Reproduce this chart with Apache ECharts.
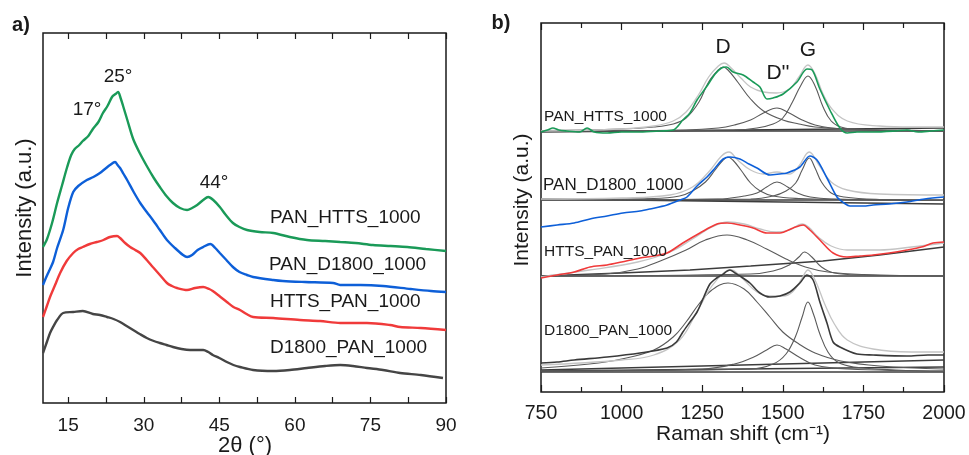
<!DOCTYPE html>
<html>
<head>
<meta charset="utf-8">
<script src="https://cdn.jsdelivr.net/npm/echarts@6/dist/echarts.min.js"></script>
<style>
  html, body { margin: 0; padding: 0; background: #fff; }
  #chart { width: 969px; height: 455px; }
</style>
</head>
<body>
<div id="chart"></div>
<script>
// ---------- (a) XRD patterns: [2theta (deg), intensity (a.u., offset)] ----------
const xrdPanHtts = [[10,156],[10.8,164],[11.8,180],[12.8,200],[13.8,218],[14.8,236],[15.6,248],[16.3,254],[17.2,258],[17.9,262],[19,267],[19.9,274],[21,281],[21.9,290],[22.8,297],[23.7,306],[24.4,309],[24.9,311],[25.4,305],[25.9,297],[26.8,282],[27.9,264],[29.2,250],[30.6,237],[32,225],[33.2,216],[34.5,207],[35.8,200],[37.2,195],[38.6,193],[39.6,195],[40.6,198],[41.8,203],[42.8,206],[43.8,203],[45.1,196],[46.3,188],[47.7,180],[49,176],[50.5,173],[53,171],[55.7,170],[59,166],[62.4,163],[66,162],[69,161],[72,160],[75.5,158],[79,157],[82.3,156],[86,154],[90,152]];
const xrdPanD1800 = [[10,118],[10.4,123],[11.2,132],[12,141],[12.8,155],[14,173],[15,195],[16,211],[17,217],[18.7,223],[20,226],[21.3,230],[22.3,234],[23.3,238],[24.3,241],[24.8,238],[25.3,235],[26,229],[26.7,223],[28,211],[29.3,200],[30.6,191],[31.8,183],[33.2,173],[34.6,163],[36.2,155],[37.8,148],[38.6,146],[39.6,148],[40.7,153],[41.8,156],[43.2,159],[44.2,155],[45.1,150],[46.4,143],[47.7,136],[49,131],[50.5,128],[51.7,126],[55.7,123],[57.6,122],[62,121],[67.6,120],[69,118],[73,118],[77.5,117],[83,114],[87,112],[90,111]];
const xrdHttsPan = [[10,86],[10.7,96],[11.4,106],[12.4,118],[13.4,130],[14.7,142],[16,150],[17,154],[17.9,156],[19.3,159],[20.7,161],[22,163],[23.3,166],[24.7,167],[25.3,165],[26.3,160],[27.3,156],[28.3,153],[29.3,150],[30.6,143],[31.8,136],[33.2,128],[34.6,120],[35.6,117],[36.6,115],[38.6,113],[40.2,115],[41.8,116],[43,114],[43.7,112],[45,107],[46.5,101],[47.8,96],[49.1,93],[50.4,89],[51.7,86],[55.7,85],[61,83],[65,82],[69,80],[74.3,80],[78.9,78],[80.9,76],[85,75],[90,73]];
const xrdD1800Pan = [[10,50],[10.7,60],[11.4,70],[12.1,77],[12.8,83],[14,90],[16,91],[17.9,92],[19.9,89],[21.3,88],[22.7,86],[24,84],[25.3,81],[26.6,77],[27.9,73],[29.2,69],[30.6,65],[32,62],[33.2,60],[34.5,58],[35.8,56],[37.5,54],[39.2,53],[40.5,53],[41.8,53],[42.8,51],[43.7,48],[45,45],[46.5,41],[47.8,38],[49.1,36],[51.7,33],[55.7,32],[59,33],[62.4,35],[66,37],[69,38],[71.5,37],[74.3,35],[77.5,33],[80.9,30],[85,28],[89.4,25]];
const xrdTicks = [15,22.5,30,37.5,45,52.5,60,67.5,75,82.5,90];
const xrdLabels = [15,30,45,60,75,90];

// ---------- (b) Raman spectra: [shift (cm-1), intensity (a.u., offset)] ----------
// PAN_HTTS_1000
const ramanPanHtts = [[750,260],[770,262],[787,264],[805,262],[830,261],[870,260],[893,264],[915,260],[955,259],[1000,260],[1057,260],[1120,261],[1160,262],[1190,272],[1212,279],[1234,292],[1265,306],[1290,318],[1310,324],[1325,325],[1346,320],[1377,317],[1408,310],[1429,305],[1451,293],[1470,294],[1501,298],[1544,310],[1575,323],[1591,322],[1615,303],[1646,282],[1677,264],[1700,259],[1730,260],[1780,260],[1850,261],[1885,262],[1920,260],[1960,261],[2000,262]];
const fitPanHtts = [[750,261],[1000,263],[1100,266],[1160,271],[1200,280],[1240,298],[1270,315],[1300,326],[1318,329],[1340,324],[1370,314],[1400,305],[1440,300],[1480,299],[1520,303],[1550,315],[1578,327],[1600,318],[1625,298],[1650,284],[1700,271],[1800,266],[1900,265],[2000,265]];
const dPanHtts = [[750,261.5],[1000,263],[1100,265],[1160,268],[1200,274],[1240,290],[1270,310],[1300,322],[1315,325],[1330,322],[1360,310],[1400,293],[1440,281],[1500,272],[1550,268],[1600,265],[1700,263],[1850,262],[2000,261]];
const d2PanHtts = [[750,261],[1200,262],[1300,264],[1350,267],[1400,272],[1440,279],[1482,284],[1520,279],[1560,272],[1600,267],[1650,264],[1750,262],[2000,261]];
const gPanHtts = [[750,261],[1350,262],[1420,264],[1470,268],[1500,274],[1530,290],[1555,306],[1578,316],[1600,306],[1625,285],[1650,271],[1680,265],[1750,262],[2000,261]];
const basePanHtts = [[750,261],[2000,261]];
const bgPanHtts = [[750,260],[2000,264]];
// PAN_D1800_1000
const ramanPanD1800 = [[750,165],[800,167],[853,169],[902,173],[955,176],[1004,179],[1057,181],[1088,183],[1141,187],[1181,192],[1203,195],[1234,206],[1265,215],[1290,224],[1315,233],[1336,235],[1367,233],[1395,228],[1420,224],[1460,217],[1490,218],[1513,219],[1553,225],[1584,236],[1606,232],[1637,214],[1668,195],[1690,189],[1708,186],[1750,186],[1780,187],[1830,188],[1885,190],[1940,193],[2000,195]];
const fitPanD1800 = [[750,193],[1000,194],[1150,197],[1220,205],[1270,220],[1310,236],[1333,240],[1360,232],[1400,222],[1440,218],[1482,220],[1520,218],[1550,226],[1582,240],[1610,228],[1650,210],[1700,202],[1800,198],[2000,197]];
const dPanD1800 = [[750,192.5],[1100,193.5],[1180,196],[1220,201],[1260,210],[1290,222],[1315,232],[1330,235],[1345,232],[1370,222],[1400,209],[1430,201],[1470,196],[1550,193.5],[1700,192.5],[2000,191.5]];
const d2PanD1800 = [[750,192],[1300,193],[1380,196],[1420,199],[1450,205],[1482,210],[1515,205],[1545,199],[1585,195],[1650,193],[2000,191.5]];
const gPanD1800 = [[750,192],[1400,193],[1470,196],[1510,201],[1540,209],[1560,222],[1582,234],[1600,224],[1620,210],[1650,199],[1690,195],[1800,192.5],[2000,191.5]];
const basePanD1800 = [[750,192],[2000,192]];
const bgPanD1800 = [[750,193],[2000,188]];
// HTTS_PAN_1000
const ramanHttsPan = [[750,114],[800,117],[853,120],[902,125],[955,127],[1000,130],[1057,134],[1100,136],[1141,139],[1190,149],[1243,159],[1296,168],[1327,169],[1367,167],[1408,164],[1451,159],[1491,159],[1532,164],[1563,167],[1584,162],[1615,152],[1656,139],[1699,135],[1740,136],[1780,137],[1830,139],[1885,142],[1930,145],[1966,149],[2000,150]];
const fitHttsPan = [[750,115],[900,122],[1050,130],[1150,140],[1220,153],[1280,165],[1330,170],[1380,168],[1430,163],[1480,160],[1520,162],[1560,168],[1580,165],[1610,155],[1650,146],[1700,142],[1800,142],[1900,145],[2000,149]];
const dHttsPan = [[750,116],[950,118],[1050,123],[1120,131],[1200,142],[1260,152],[1327,157],[1390,152],[1450,143],[1510,133],[1570,125],[1640,120],[1750,117.5],[2000,116]];
const gHttsPan = [[750,116],[1400,118],[1470,121],[1520,127],[1550,135],[1567,140],[1590,135],[1620,125],[1660,119],[1750,117],[2000,116]];
const baseHttsPan = [[750,116],[2000,116]];
const bgHttsPan = [[750,116],[1000,119],[1212,122],[1400,126],[1624,131],[1800,137],[2000,145]];
// D1800_PAN_1000
const ramanD1800Pan = [[750,29],[800,30],[853,32],[955,35],[1057,39],[1141,44],[1170,50],[1190,60],[1212,70],[1234,80],[1255,95],[1274,108],[1295,114],[1311,117],[1336,122],[1352,119],[1367,116],[1398,109],[1429,99],[1460,95],[1491,96],[1522,100],[1553,109],[1575,117],[1594,112],[1615,90],[1637,69],[1656,50],[1677,45],[1730,38],[1780,37],[1885,36],[1950,37],[2000,37]];
const fitD1800Pan = [[750,27],[1000,32],[1100,37],[1180,52],[1230,78],[1280,106],[1320,120],[1340,122],[1370,115],[1420,100],[1460,96],[1500,96],[1530,100],[1560,114],[1578,122],[1600,112],[1630,88],[1660,68],[1700,52],[1780,43],[1900,40],[2000,40]];
const dD1800Pan = [[750,24],[900,28],[1000,33],[1100,42],[1160,55],[1200,70],[1240,88],[1280,102],[1330,109],[1380,103],[1420,90],[1460,75],[1500,60],[1550,48],[1600,39],[1680,31],[1800,26],[2000,23]];
const d2D1800Pan = [[750,21],[1250,23],[1350,28],[1410,35],[1450,42],[1482,47],[1510,43],[1550,35],[1600,27],[1700,23],[2000,21]];
const gD1800Pan = [[750,21],[1400,23],[1470,28],[1510,38],[1540,56],[1560,75],[1578,90],[1595,78],[1615,58],[1640,40],[1670,30],[1720,25],[1850,22],[2000,21]];
const baseD1800Pan = [[750,20],[2000,20]];
const bg1D1800Pan = [[750,22],[2000,32]];
const bg2D1800Pan = [[750,21],[2000,25]];

const FONT = '"Liberation Sans", Arial, Helvetica, sans-serif';
const INK = '#1a1a1a';
const COL = { green: '#1a9a58', blue: '#0d5fd8', red: '#f03a3a', dark: '#454545' };

const chart = echarts.init(document.getElementById('chart'), null, { renderer: 'canvas' });

function line(data, xi, color, width, smooth, z) {
  return {
    type: 'line', data: data, xAxisIndex: xi, yAxisIndex: xi === 0 ? 0 : 1,
    showSymbol: false, symbol: 'none', smooth: smooth, silent: true, z: z || 2,
    lineStyle: { color: color, width: width }
  };
}

const COMP = '#5a5a5a', FIT = '#c4c4c4', BASE = '#3c3c3c';
function ramanSet(raw, rawColor, fit, comps, bases) {
  const s = [];
  bases.forEach(b => s.push(line(b, 2, BASE, 1.3, false, 2)));
  comps.forEach(c => s.push(line(c, 2, COMP, 1.1, 0.4, 3)));
  s.push(line(fit, 2, FIT, 1.3, 0.4, 4));
  s.push(line(raw, 2, rawColor, 1.6, 0.3, 5));
  return s;
}

const series = [
  line(xrdD1800Pan, 0, COL.dark, 2.4, 0.3),
  line(xrdHttsPan, 0, COL.red, 2.4, 0.3),
  line(xrdPanD1800, 0, COL.blue, 2.4, 0.3),
  line(xrdPanHtts, 0, COL.green, 2.4, 0.3),
  ...ramanSet(ramanPanHtts, COL.green, fitPanHtts, [dPanHtts, d2PanHtts, gPanHtts], [basePanHtts, bgPanHtts]),
  ...ramanSet(ramanPanD1800, COL.blue, fitPanD1800, [dPanD1800, d2PanD1800, gPanD1800], [basePanD1800, bgPanD1800]),
  ...ramanSet(ramanHttsPan, COL.red, fitHttsPan, [dHttsPan, gHttsPan], [baseHttsPan, bgHttsPan]),
  ...ramanSet(ramanD1800Pan, '#3a3a3a', fitD1800Pan, [dD1800Pan, d2D1800Pan, gD1800Pan], [baseD1800Pan, bg1D1800Pan, bg2D1800Pan])
];

function txt(text, x, y, size, opts) {
  opts = opts || {};
  return {
    type: 'text', x: x, y: y, rotation: opts.rot || 0, z: 10, silent: true,
    style: {
      text: text, fill: INK, align: opts.align || 'center', verticalAlign: 'middle',
      font: (opts.bold ? 'bold ' : '') + size + 'px ' + FONT
    }
  };
}

const tickStyle = { lineStyle: { color: INK, width: 1.2 } };

const option = {
  animation: false,
  backgroundColor: '#ffffff',
  grid: [
    { left: 43, top: 33, width: 403, height: 370, show: true, borderColor: INK, borderWidth: 1.5, backgroundColor: 'transparent' },
    { left: 541, top: 23, width: 403, height: 369, show: true, borderColor: INK, borderWidth: 1.5, backgroundColor: 'transparent' }
  ],
  xAxis: [
    { gridIndex: 0, type: 'value', min: 10, max: 90, position: 'bottom',
      axisLine: { show: false }, splitLine: { show: false },
      axisTick: { show: true, inside: true, length: 6, customValues: xrdTicks, ...tickStyle },
      axisLabel: { customValues: xrdLabels, color: INK, fontSize: 19, fontFamily: FONT, margin: 13 } },
    { gridIndex: 0, type: 'value', min: 10, max: 90, position: 'top',
      axisLine: { show: false }, splitLine: { show: false },
      axisTick: { show: true, inside: true, length: 6, customValues: xrdTicks, ...tickStyle },
      axisLabel: { show: false } },
    { gridIndex: 1, type: 'value', min: 750, max: 2000, interval: 250, position: 'bottom',
      axisLine: { show: false }, splitLine: { show: false },
      axisTick: { show: true, inside: true, length: 7, ...tickStyle },
      minorTick: { show: true, splitNumber: 2, length: 5, lineStyle: { color: INK, width: 1.2 } },
      axisLabel: { color: INK, fontSize: 19.5, fontFamily: FONT, margin: 12, formatter: v => String(v) } },
    { gridIndex: 1, type: 'value', min: 750, max: 2000, interval: 250, position: 'top',
      axisLine: { show: false }, splitLine: { show: false },
      axisTick: { show: true, inside: true, length: 7, ...tickStyle },
      minorTick: { show: true, splitNumber: 2, length: 5, lineStyle: { color: INK, width: 1.2 } },
      axisLabel: { show: false } }
  ],
  yAxis: [
    { gridIndex: 0, type: 'value', min: 0, max: 370, show: false },
    { gridIndex: 1, type: 'value', min: 0, max: 369, show: false }
  ],
  series: series,
  graphic: [
    txt('a)', 21, 25, 20, { bold: true }),
    txt('b)', 501, 23, 20, { bold: true }),
    txt('Intensity (a.u.)', 25, 208, 22, { rot: Math.PI / 2 }),
    txt('2θ (°)', 245, 446, 22),
    txt('17°', 87, 110, 19),
    txt('25°', 118, 77, 19),
    txt('44°', 214, 183, 19),
    txt('PAN_HTTS_1000', 270, 218, 19, { align: 'left' }),
    txt('PAN_D1800_1000', 269, 265, 19, { align: 'left' }),
    txt('HTTS_PAN_1000', 270, 302, 19, { align: 'left' }),
    txt('D1800_PAN_1000', 270, 348, 19, { align: 'left' }),
    txt('Intensity (a.u.)', 522, 200, 21, { rot: Math.PI / 2 }),
    txt('Raman shift (cm\u207B\u00B9)', 743, 434, 21),
    txt('D', 723, 47, 21),
    txt("D''", 778, 73, 21),
    txt('G', 808, 50, 21),
    txt('PAN_HTTS_1000', 544, 117, 15.5, { align: 'left' }),
    txt('PAN_D1800_1000', 543, 185, 17, { align: 'left' }),
    txt('HTTS_PAN_1000', 544, 252, 15.5, { align: 'left' }),
    txt('D1800_PAN_1000', 544, 331, 15.5, { align: 'left' })
  ]
};

chart.setOption(option);
</script>
</body>
</html>
